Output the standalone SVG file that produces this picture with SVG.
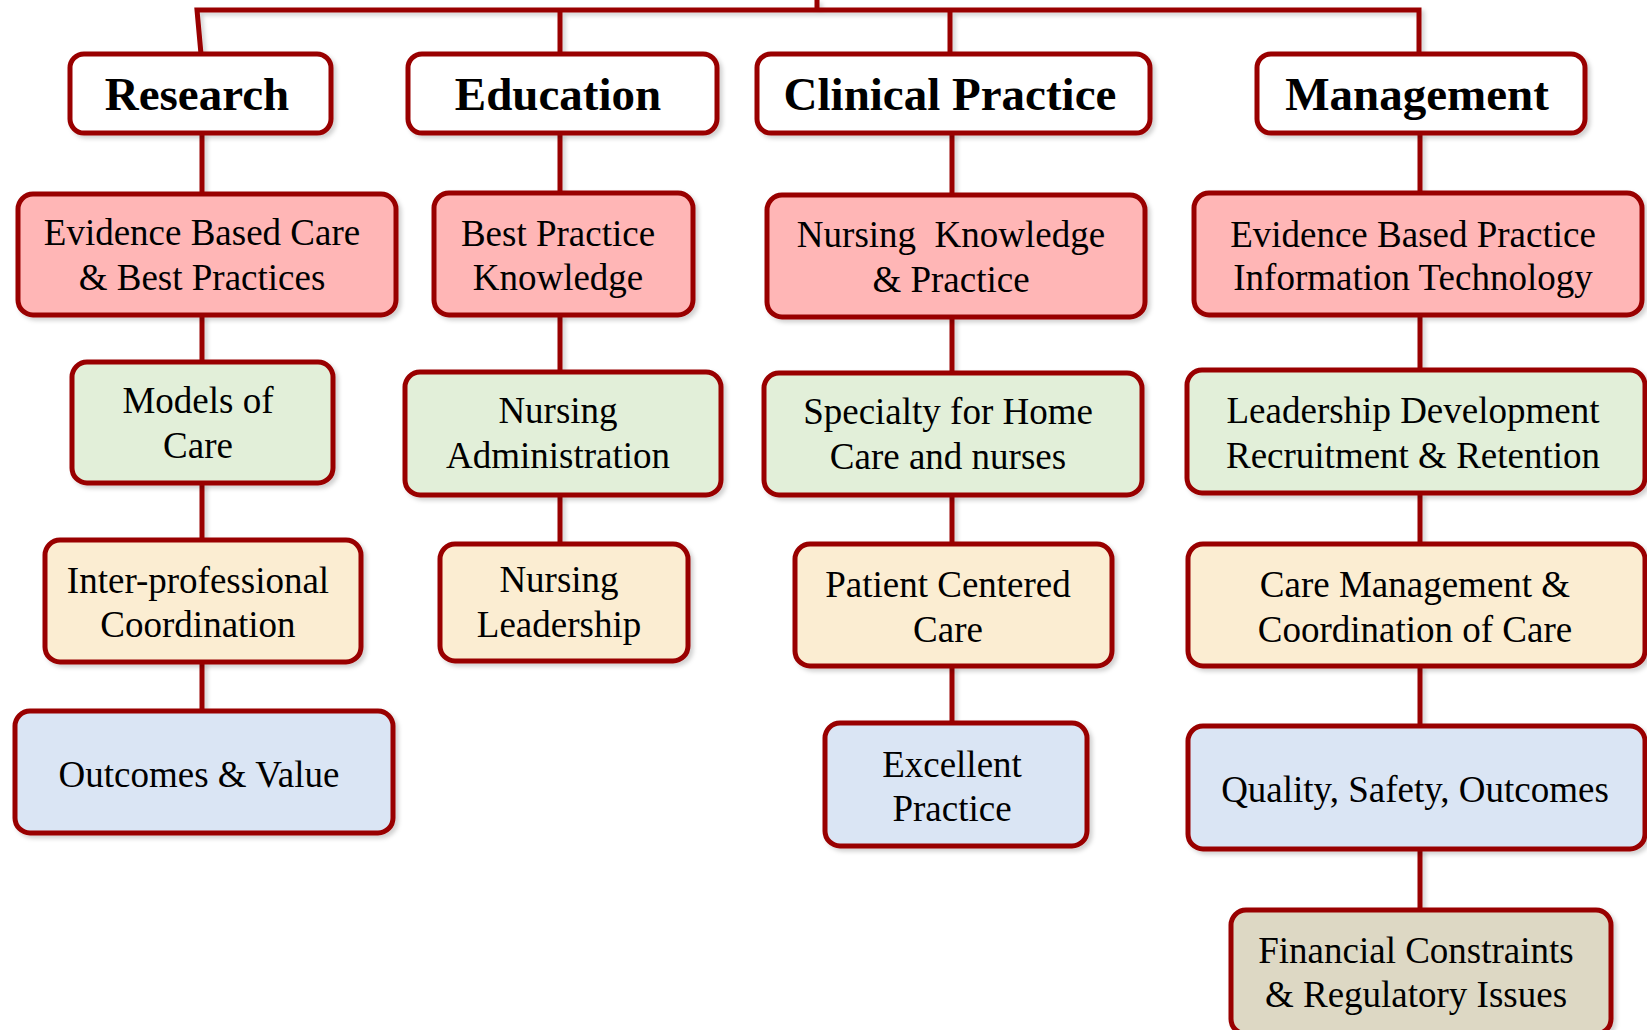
<svg xmlns="http://www.w3.org/2000/svg" width="1647" height="1030" viewBox="0 0 1647 1030">
<style>
.box{stroke:#990000;stroke-width:5;filter:url(#sh)}
.hdr{fill:#ffffff}
.pink{fill:#FFB6B6}
.green{fill:#E2EFD9}
.cream{fill:#FBEDD2}
.blue{fill:#DAE5F4}
.tan{fill:#DDD8C4}
.ln{stroke:#990000;stroke-width:5;fill:none}
text{font-family:"Liberation Serif","Times New Roman",serif;fill:#000;text-anchor:middle}
.h{font-size:47px;font-weight:bold}
.t{font-size:37px;white-space:pre}
</style>
<defs>
<filter id="sh" x="-10%" y="-10%" width="130%" height="130%">
<feDropShadow dx="3" dy="3" stdDeviation="2" flood-color="#000" flood-opacity="0.18"/>
</filter>
<filter id="shl" filterUnits="userSpaceOnUse" x="0" y="0" width="1647" height="1030">
<feDropShadow dx="3" dy="3" stdDeviation="2" flood-color="#000" flood-opacity="0.18"/>
</filter>
</defs>
<rect width="1647" height="1030" fill="#ffffff"/>
<g id="connectors" filter="url(#shl)">
<path class="ln" d="M817,0 L817,10"/>
<path class="ln" d="M201,54 L197,10 L1419,10 L1419,58"/>
<path class="ln" d="M560,10 L560,54"/>
<path class="ln" d="M950,10 L950,54"/>
<path class="ln" d="M202,133 V194 M202,315 V362 M202,483 V540 M202,662 V711"/>
<path class="ln" d="M560,133 V193 M560,315 V372 M560,495 V544"/>
<path class="ln" d="M952,133 V195 M952,317 V373 M952,495 V544 M952,666 V723"/>
<path class="ln" d="M1420,133 V193 M1420,317 V370 M1420,493 V544 M1420,666 V726 M1420,849 V910"/>
</g>
<g id="research">
<rect class="box hdr" x="70" y="54" width="261" height="79" rx="14"/>
<text class="h" x="197" y="110">Research</text>
</g>
<g id="education">
<rect class="box hdr" x="408" y="54" width="309" height="79" rx="14"/>
<text class="h" x="558" y="110">Education</text>
</g>
<g id="clinical-practice">
<rect class="box hdr" x="757" y="54" width="393" height="79" rx="14"/>
<text class="h" x="950" y="110">Clinical Practice</text>
</g>
<g id="management">
<rect class="box hdr" x="1257" y="54" width="328" height="79" rx="14"/>
<text class="h" x="1417" y="110">Management</text>
</g>
<g id="evidence-based-care">
<rect class="box pink" x="18" y="194" width="378" height="121" rx="15"/>
<text class="t" x="202" y="245">Evidence Based Care</text>
<text class="t" x="202" y="290">&amp; Best Practices</text>
</g>
<g id="best-practice-knowledge">
<rect class="box pink" x="434" y="193" width="259" height="122" rx="15"/>
<text class="t" x="558" y="246">Best Practice</text>
<text class="t" x="558" y="290">Knowledge</text>
</g>
<g id="nursing-knowledge">
<rect class="box pink" x="767" y="195" width="378" height="122" rx="15"/>
<text class="t" x="951" y="247">Nursing  Knowledge</text>
<text class="t" x="951" y="292">&amp; Practice</text>
</g>
<g id="evidence-based-practice">
<rect class="box pink" x="1194" y="193" width="448" height="122" rx="15"/>
<text class="t" x="1413" y="247">Evidence Based Practice</text>
<text class="t" x="1413" y="290">Information Technology</text>
</g>
<g id="models-of-care">
<rect class="box green" x="72" y="362" width="261" height="121" rx="15"/>
<text class="t" x="198" y="413">Models of</text>
<text class="t" x="198" y="458">Care</text>
</g>
<g id="nursing-administration">
<rect class="box green" x="405" y="372" width="316" height="123" rx="15"/>
<text class="t" x="558" y="423">Nursing</text>
<text class="t" x="558" y="468">Administration</text>
</g>
<g id="specialty-home-care">
<rect class="box green" x="764" y="373" width="378" height="122" rx="15"/>
<text class="t" x="948" y="424">Specialty for Home</text>
<text class="t" x="948" y="469">Care and nurses</text>
</g>
<g id="leadership-development">
<rect class="box green" x="1187" y="370" width="458" height="123" rx="15"/>
<text class="t" x="1413" y="423">Leadership Development</text>
<text class="t" x="1413" y="468">Recruitment &amp; Retention</text>
</g>
<g id="inter-professional">
<rect class="box cream" x="45" y="540" width="316" height="122" rx="15"/>
<text class="t" x="198" y="593">Inter-professional</text>
<text class="t" x="198" y="637">Coordination</text>
</g>
<g id="nursing-leadership">
<rect class="box cream" x="440" y="544" width="248" height="117" rx="15"/>
<text class="t" x="559" y="592">Nursing</text>
<text class="t" x="559" y="637">Leadership</text>
</g>
<g id="patient-centered-care">
<rect class="box cream" x="795" y="544" width="317" height="122" rx="15"/>
<text class="t" x="948" y="597">Patient Centered</text>
<text class="t" x="948" y="642">Care</text>
</g>
<g id="care-management">
<rect class="box cream" x="1188" y="544" width="457" height="122" rx="15"/>
<text class="t" x="1415" y="597">Care Management &amp;</text>
<text class="t" x="1415" y="642">Coordination of Care</text>
</g>
<g id="outcomes-value">
<rect class="box blue" x="15" y="711" width="378" height="122" rx="15"/>
<text class="t" x="199" y="787">Outcomes &amp; Value</text>
</g>
<g id="excellent-practice">
<rect class="box blue" x="825" y="723" width="262" height="123" rx="15"/>
<text class="t" x="952" y="777">Excellent</text>
<text class="t" x="952" y="821">Practice</text>
</g>
<g id="quality-safety-outcomes">
<rect class="box blue" x="1188" y="726" width="457" height="123" rx="15"/>
<text class="t" x="1415" y="802">Quality, Safety, Outcomes</text>
</g>
<g id="financial-constraints">
<rect class="box tan" x="1231" y="910" width="380" height="124" rx="15"/>
<text class="t" x="1416" y="963">Financial Constraints</text>
<text class="t" x="1416" y="1007">&amp; Regulatory Issues</text>
</g>
</svg>
